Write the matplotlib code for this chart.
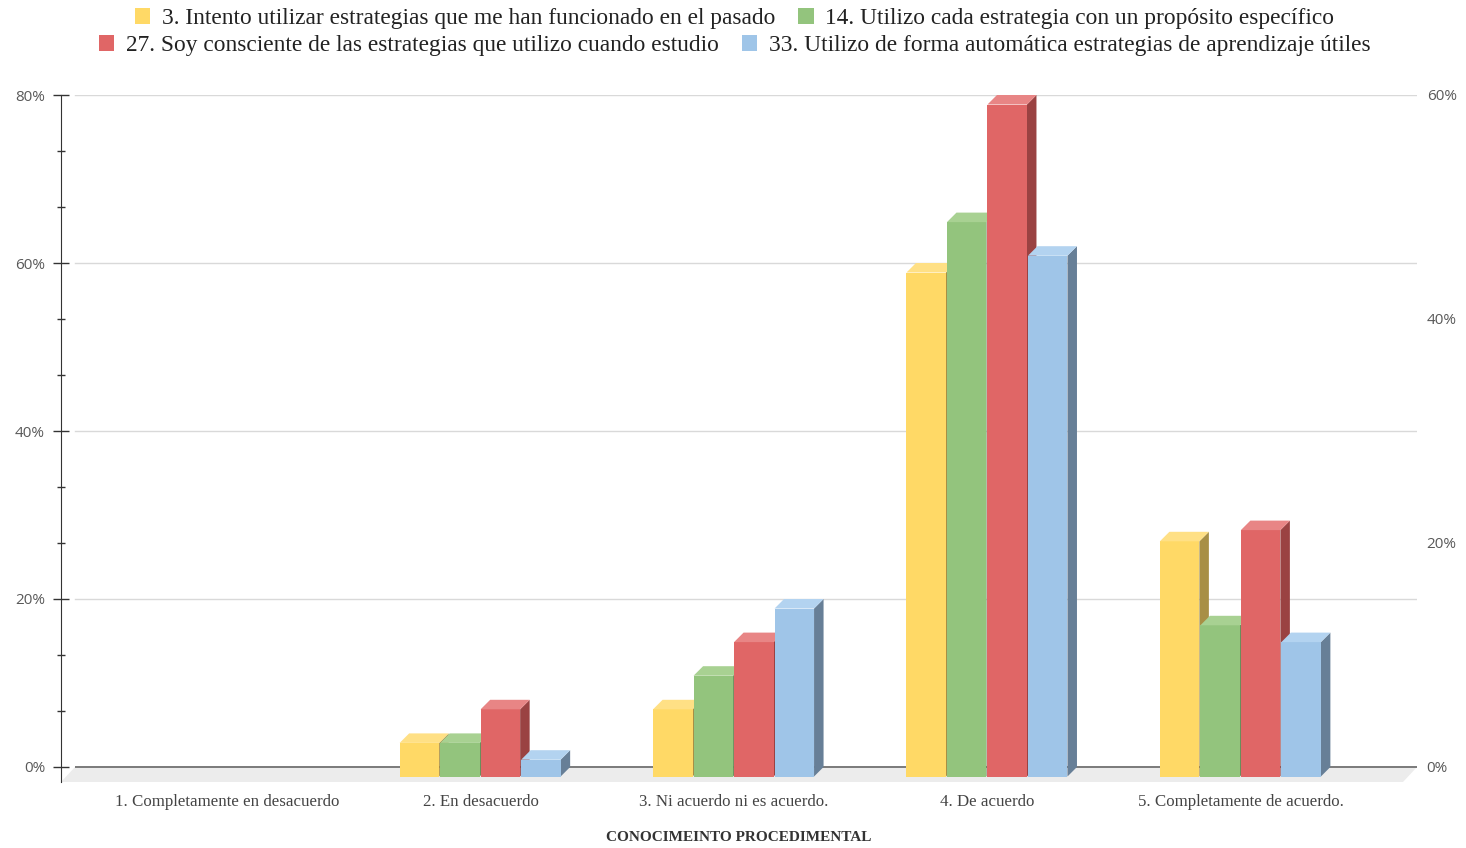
import numpy as np
import matplotlib.pyplot as plt
from matplotlib.patches import Polygon, Patch
from matplotlib.ticker import MultipleLocator, FuncFormatter

categories = ['1. Completamente en desacuerdo', '2. En desacuerdo',
              '3. Ni acuerdo ni es acuerdo.', '4. De acuerdo',
              '5. Completamente de acuerdo.']
series_labels = ['3. Intento utilizar estrategias que me han funcionado en el pasado',
                 '14. Utilizo cada estrategia con un propósito específico',
                 '27. Soy consciente de las estrategias que utilizo cuando estudio',
                 '33. Utilizo de forma automática estrategias de aprendizaje útiles']
vals_3 = [0, 4, 8, 60, 28]
vals_14 = [0, 4, 12, 66, 18]
vals_27 = [0, 6, 12, 60, 22]   # on the secondary (right) axis
vals_33 = [0, 2, 20, 62, 16]

# front / top / side shades per series
shades = [('#FFD966', '#FFE085', '#A88F45'),
          ('#93C47D', '#A8D192', '#6A8E5A'),
          ('#E06666', '#E88585', '#9A4242'),
          ('#9FC5E8', '#B3D3F0', '#677F97')]
on_right = [False, False, True, False]

W, H = 1466, 848
fig = plt.figure(figsize=(W / 100, H / 100), dpi=100)

# plot box in pixels
left_px, right_px = 61, 1417
top_px, zero_px, bottom_px = 95, 767, 782
ax = fig.add_axes([left_px / W, 1 - bottom_px / H,
                   (right_px - left_px) / W, (bottom_px - top_px) / H])
ax2 = ax.twinx()

ymax, ymax2 = 80, 60
sy = (zero_px - top_px) / ymax
ymin = -(bottom_px - zero_px) / sy
ymin2 = ymin * ymax2 / ymax
sy2 = (zero_px - top_px) / ymax2
xmin, xmax = -0.656, 4.695
sx = (right_px - left_px) / (xmax - xmin)

depth = 9.5      # bar depth, px
floor = 14       # floor depth, px
slot = 40.5 / sx
bw = 39.5 / sx

# floor + baseline + grid
fx = floor / sx
ax.add_patch(Polygon([(xmin + fx, 0), (xmax, 0), (xmax - fx, ymin), (xmin, ymin)],
                     closed=True, facecolor='#ececec', edgecolor='none', zorder=1))
ax.plot([xmin + fx, xmax], [0, 0], color='#7a7a7a', lw=1.4, zorder=2, solid_capstyle='butt')
for g in [20, 40, 60, 80]:
    ax.axhline(g, xmin=floor / (right_px - left_px), color='#d9d9d9', lw=1, zorder=0)


def bar3d(axis, x0, v, cols, scale_y, z):
    ddx = depth / sx
    ddy = depth / scale_y
    x1 = x0 + bw
    side = [(x1, -ddy), (x1 + ddx, 0), (x1 + ddx, v), (x1, v - ddy)]
    front = [(x0, -ddy), (x1, -ddy), (x1, v - ddy), (x0, v - ddy)]
    top = [(x0, v - ddy), (x1, v - ddy), (x1 + ddx, v), (x0 + ddx, v)]
    for pts, c in zip([side, front, top], [cols[2], cols[0], cols[1]]):
        ax.add_patch(Polygon(pts, closed=True, facecolor=c, edgecolor='none',
                             transform=axis.transData, zorder=z, clip_on=False))


all_vals = [vals_3, vals_14, vals_27, vals_33]
z = 3
for k in range(len(categories)):
    for i, vals in enumerate(all_vals):
        v = vals[k]
        if v == 0:
            continue
        x0 = k + (i - 2) * slot
        if on_right[i]:
            bar3d(ax2, x0, v, shades[i], sy2, z)
        else:
            bar3d(ax, x0, v, shades[i], sy, z)
        z += 1

ax.set_xlim(xmin, xmax)
ax.set_ylim(ymin, ymax)
ax2.set_ylim(ymin2, ymax2)

pct = FuncFormatter(lambda v, p: f'{v:.0f}%')
for s in ['top', 'right', 'bottom']:
    ax.spines[s].set_visible(False)
for s in ax2.spines.values():
    s.set_visible(False)
ax.spines['left'].set_color('#333333')

ax.set_yticks([0, 20, 40, 60, 80])
ax.yaxis.set_minor_locator(MultipleLocator(80 / 12))
ax.yaxis.set_major_formatter(pct)
ax.tick_params(axis='y', which='major', direction='inout', length=11, width=1,
               color='#333333', labelsize=11, labelcolor='#595959', pad=6)
ax.tick_params(axis='y', which='minor', direction='inout', length=5.5, width=1,
               color='#333333')
for t in ax.get_yticklabels():
    t.set_fontfamily('Open Sans')

ax2.set_yticks([0, 20, 40, 60])
ax2.yaxis.set_major_formatter(pct)
ax2.tick_params(axis='y', length=0, labelsize=11, labelcolor='#595959', pad=7)
for t in ax2.get_yticklabels():
    t.set_fontfamily('Open Sans')

ax.set_xticks(range(len(categories)))
ax.set_xticklabels(categories, fontfamily='Liberation Serif', fontsize=12.2, color='#444444')
ax.tick_params(axis='x', length=0, pad=9)
ax.set_xlabel('CONOCIMEINTO PROCEDIMENTAL', fontfamily='Liberation Serif',
              fontsize=11, fontweight='bold', color='#333333', labelpad=15)

# legend, two centred rows
handles = [Patch(facecolor=s[0], edgecolor='none') for s in shades]
rows = [(0, 1, 18.5), (2, 3, 45.5)]
for a, b, yc in rows:
    fig.legend([handles[a], handles[b]], [series_labels[a], series_labels[b]],
               loc='center', bbox_to_anchor=(734.5 / W, 1 - yc / H), ncol=2,
               frameon=False, prop={'family': 'Liberation Serif', 'size': 16.8},
               handlelength=0.65, handleheight=0.65, handletextpad=0.5,
               columnspacing=1.0, borderpad=0, labelcolor='#222222')

fig.savefig('out.png', dpi=100)
